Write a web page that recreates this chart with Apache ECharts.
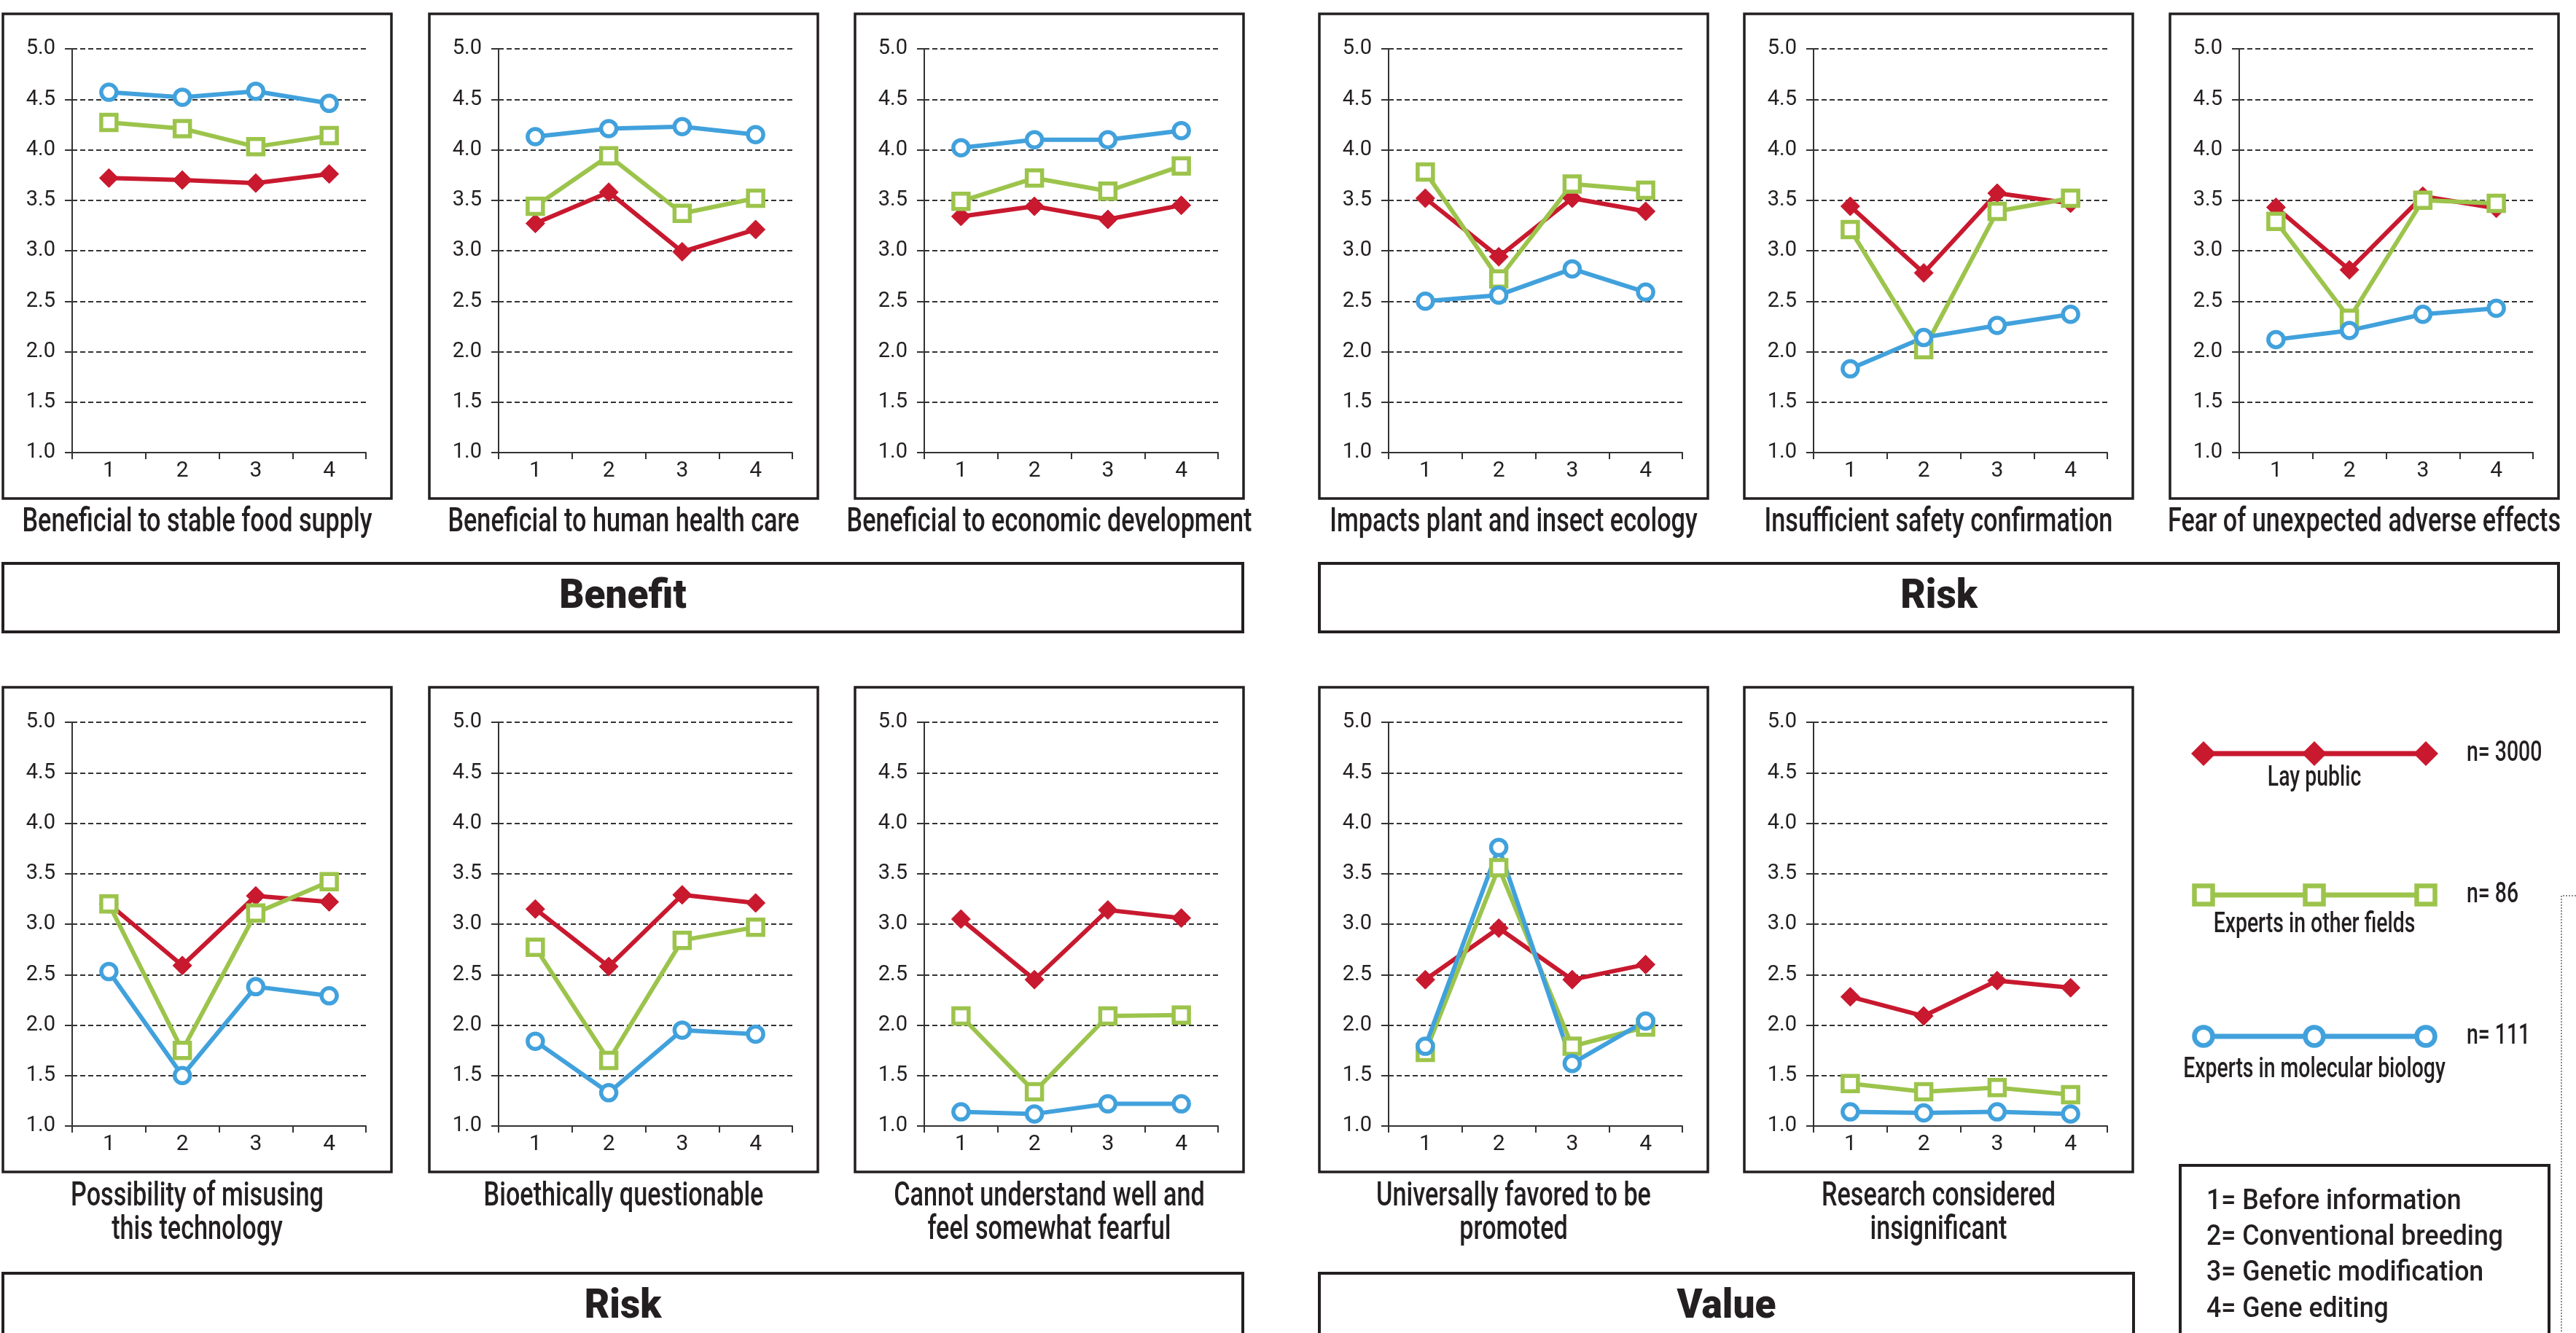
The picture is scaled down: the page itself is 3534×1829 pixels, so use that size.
<!DOCTYPE html>
<html>
<head>
<meta charset="utf-8">
<script src="https://cdn.jsdelivr.net/npm/echarts@6/dist/echarts.min.js"></script>
<style>
  html, body { margin: 0; padding: 0; background: #ffffff; }
  #chart { width: 3534px; height: 1829px; }
</style>
</head>
<body>
<div id="chart"></div>
<script>
// Survey stages on the x axis of every panel
const stages = ['1', '2', '3', '4'];

// Respondent groups and sample sizes
const groupNames = ['Lay public', 'Experts in other fields', 'Experts in molecular biology'];
const groupSizes = ['n= 3000', 'n= 86', 'n= 111'];

// Panel captions (top row: 6 panels, bottom row: 5 panels)
const panelTitles = [
  'Beneficial to stable food supply',
  'Beneficial to human health care',
  'Beneficial to economic development',
  'Impacts plant and insect ecology',
  'Insufficient safety confirmation',
  'Fear of unexpected adverse effects',
  'Possibility of misusing\nthis technology',
  'Bioethically questionable',
  'Cannot understand well and\nfeel somewhat fearful',
  'Universally favored to be\npromoted',
  'Research considered\ninsignificant'
];

// Mean scores per panel, one row per panel, one value per stage
const layPublic = [
  [3.72, 3.70, 3.67, 3.76],
  [3.27, 3.58, 2.99, 3.21],
  [3.34, 3.44, 3.31, 3.45],
  [3.52, 2.94, 3.52, 3.39],
  [3.44, 2.78, 3.57, 3.47],
  [3.43, 2.81, 3.54, 3.42],
  [3.20, 2.59, 3.28, 3.22],
  [3.15, 2.58, 3.29, 3.21],
  [3.05, 2.45, 3.14, 3.06],
  [2.45, 2.96, 2.45, 2.60],
  [2.28, 2.09, 2.44, 2.37]
];
const expertsOther = [
  [4.27, 4.21, 4.03, 4.14],
  [3.44, 3.94, 3.37, 3.52],
  [3.49, 3.72, 3.59, 3.84],
  [3.78, 2.72, 3.66, 3.60],
  [3.21, 2.02, 3.39, 3.52],
  [3.29, 2.33, 3.50, 3.47],
  [3.20, 1.75, 3.11, 3.42],
  [2.77, 1.65, 2.84, 2.97],
  [2.09, 1.34, 2.09, 2.10],
  [1.73, 3.56, 1.79, 1.98],
  [1.42, 1.34, 1.38, 1.31]
];
const expertsMolBio = [
  [4.57, 4.52, 4.58, 4.46],
  [4.13, 4.21, 4.23, 4.15],
  [4.02, 4.10, 4.10, 4.19],
  [2.50, 2.56, 2.82, 2.59],
  [1.83, 2.14, 2.26, 2.37],
  [2.12, 2.21, 2.37, 2.43],
  [2.53, 1.50, 2.38, 2.29],
  [1.84, 1.33, 1.95, 1.91],
  [1.14, 1.12, 1.22, 1.22],
  [1.79, 3.76, 1.62, 2.04],
  [1.14, 1.13, 1.14, 1.12]
];

// Value axis range and step
const yMin = 1.0;
const yMax = 5.0;
const yStep = 0.5;

// Section headers under the panel rows
const sectionTitles = ['Benefit', 'Risk', 'Risk', 'Value'];

// Stage key
const stageKey = [
  '1= Before information',
  '2= Conventional breeding',
  '3= Genetic modification',
  '4= Gene editing'
];

// ---- styling ----
const INK = '#231F20';
const RED = '#C8192F';
const GREEN = '#9CC44C';
const BLUE = '#41A1DC';
const FONT = 'Roboto';

// Condensed text: measure once with the canvas and squeeze horizontally
const measureCtx = document.createElement('canvas').getContext('2d');
function textWidth(str, size, weight) {
  measureCtx.font = (weight || 'normal') + ' ' + size + 'px ' + FONT;
  return measureCtx.measureText(str).width;
}
const CAPTION_SIZE = 47;
const CAPTION_WEIGHT = 500;
const condense = 480 / textWidth('Beneficial to stable food supply', CAPTION_SIZE, CAPTION_WEIGHT);
const KEY_SIZE = 39;
const keyCondense = 407 / textWidth('2= Conventional breeding', KEY_SIZE, CAPTION_WEIGHT);

// Panel frame geometry
const BOX_W = 533, BOX_H = 665;
const COL_X = [4, 589, 1173, 1810, 2393, 2977];
const ROW_Y = [19, 943];

function panelBox(i) {
  const row = i < 6 ? 0 : 1;
  const col = i < 6 ? i : i - 6;
  return { x: COL_X[col], y: ROW_Y[row], row: row };
}

const grids = [], xAxes = [], yAxes = [], series = [], graphics = [];

function ctext(str, x, y, size, opts) {
  opts = opts || {};
  return {
    type: 'text', x: x, y: y, scaleX: opts.scaleX || 1, silent: true, z: 10,
    style: {
      text: str, fill: INK, fontFamily: FONT, fontSize: size,
      fontWeight: opts.weight || CAPTION_WEIGHT,
      lineHeight: opts.lineHeight || size,
      align: opts.align || 'center', verticalAlign: opts.vAlign || 'middle',
      textAlign: opts.align || 'center', textVerticalAlign: opts.vAlign || 'middle'
    }
  };
}

for (let i = 0; i < panelTitles.length; i++) {
  const b = panelBox(i);
  grids.push({ left: b.x + 95, top: b.y + 48, width: 403, height: 554, containLabel: false });

  xAxes.push({
    type: 'category', gridIndex: i, data: stages, boundaryGap: true,
    axisLine: { show: true, lineStyle: { color: '#333333', width: 2 } },
    axisTick: { show: true, length: 9, lineStyle: { color: '#333333', width: 2 } },
    axisLabel: { color: INK, fontFamily: FONT, fontSize: 30, margin: 10 },
    splitLine: { show: false }
  });
  yAxes.push({
    type: 'value', gridIndex: i, min: yMin, max: yMax, interval: yStep,
    axisLine: { show: true, lineStyle: { color: '#333333', width: 2 } },
    axisTick: { show: true, length: 10, lineStyle: { color: '#333333', width: 2 } },
    axisLabel: { color: INK, fontFamily: FONT, fontSize: 29, margin: 23,
                 formatter: v => v.toFixed(1) },
    splitLine: { show: true, lineStyle: { color: '#333333', width: 2, type: [7, 4] } }
  });

  series.push({
    type: 'line', name: groupNames[0], xAxisIndex: i, yAxisIndex: i, data: layPublic[i],
    symbol: 'diamond', symbolSize: 26, showAllSymbol: true,
    lineStyle: { color: RED, width: 6 },
    itemStyle: { color: RED, borderColor: RED, borderWidth: 1 },
    emphasis: { disabled: true }, animation: false
  });
  series.push({
    type: 'line', name: groupNames[1], xAxisIndex: i, yAxisIndex: i, data: expertsOther[i],
    symbol: 'rect', symbolSize: 21, showAllSymbol: true,
    lineStyle: { color: GREEN, width: 6 },
    itemStyle: { color: '#ffffff', borderColor: GREEN, borderWidth: 5.5 },
    emphasis: { disabled: true }, animation: false
  });
  series.push({
    type: 'line', name: groupNames[2], xAxisIndex: i, yAxisIndex: i, data: expertsMolBio[i],
    symbol: 'circle', symbolSize: 21, showAllSymbol: true,
    lineStyle: { color: BLUE, width: 6 },
    itemStyle: { color: '#ffffff', borderColor: BLUE, borderWidth: 5.5 },
    emphasis: { disabled: true }, animation: false
  });

  // panel frame
  graphics.push({
    type: 'rect', silent: true, z: 0,
    shape: { x: b.x, y: b.y, width: BOX_W, height: BOX_H },
    style: { fill: 'none', stroke: INK, lineWidth: 3.5 }
  });
  // caption below the frame
  const capTop = b.row === 0 ? 694 : 1619;
  graphics.push(ctext(panelTitles[i], b.x + BOX_W / 2, capTop, CAPTION_SIZE,
    { scaleX: condense, vAlign: 'top', lineHeight: 46 }));
}

// Section header boxes
const sectionBoxes = [
  { x: 4, y: 773, w: 1701 },
  { x: 1810, y: 773, w: 1700 },
  { x: 4, y: 1747, w: 1701 },
  { x: 1810, y: 1747, w: 1117 }
];
sectionBoxes.forEach((s, k) => {
  graphics.push({
    type: 'rect', silent: true, z: 0,
    shape: { x: s.x, y: s.y, width: s.w, height: 94 },
    style: { fill: 'none', stroke: INK, lineWidth: 4 }
  });
  graphics.push(ctext(sectionTitles[k], s.x + s.w / 2, s.y + 47, 56,
    { weight: 900, scaleX: 0.95 }));
});

// Group key: a short line with three markers, name below, sample size to the right
const keyRows = [1034, 1228, 1422];
const keyNameY = [1068, 1269, 1468];
const keyColors = [RED, GREEN, BLUE];
const keyXs = [3023, 3175, 3328];
keyRows.forEach((ky, g) => {
  const col = keyColors[g];
  graphics.push({
    type: 'line', silent: true, z: 10,
    shape: { x1: keyXs[0], y1: ky, x2: keyXs[2], y2: ky },
    style: { stroke: col, lineWidth: 7 }
  });
  keyXs.forEach(kx => {
    if (g === 0) {
      graphics.push({
        type: 'polygon', silent: true, z: 11,
        shape: { points: [[kx, ky - 17], [kx + 17, ky], [kx, ky + 17], [kx - 17, ky]] },
        style: { fill: col }
      });
    } else if (g === 1) {
      graphics.push({
        type: 'rect', silent: true, z: 11,
        shape: { x: kx - 12.5, y: ky - 12.5, width: 25, height: 25 },
        style: { fill: '#ffffff', stroke: col, lineWidth: 6.5 }
      });
    } else {
      graphics.push({
        type: 'circle', silent: true, z: 11,
        shape: { cx: kx, cy: ky, r: 12.5 },
        style: { fill: '#ffffff', stroke: col, lineWidth: 6.5 }
      });
    }
  });
  graphics.push(ctext(groupNames[g], 3175, keyNameY[g], 39, { scaleX: condense }));
  graphics.push(ctext(groupSizes[g], 3384, ky, 39, { scaleX: condense, align: 'left' }));
});

// Stage key box
graphics.push({
  type: 'rect', silent: true, z: 0,
  shape: { x: 2991, y: 1599, width: 506, height: 260 },
  style: { fill: 'none', stroke: INK, lineWidth: 4 }
});
stageKey.forEach((t, k) => {
  graphics.push(ctext(t, 3027, 1649 + k * 49.3, KEY_SIZE,
    { scaleX: keyCondense, align: 'left' }));
});

// Dotted frame edge of the neighbouring block at the far right
graphics.push({
  type: 'polyline', silent: true, z: 0,
  shape: { points: [[3534, 1229], [3514, 1229], [3514, 1840]] },
  style: { fill: 'none', stroke: '#666666', lineWidth: 1.5, lineDash: [2, 2] }
});

const chart = echarts.init(document.getElementById('chart'), null, { renderer: 'canvas' });
chart.setOption({
  backgroundColor: '#ffffff',
  animation: false,
  textStyle: { fontFamily: FONT },
  grid: grids,
  xAxis: xAxes,
  yAxis: yAxes,
  series: series,
  graphic: { elements: graphics }
});
</script>
</body>
</html>
